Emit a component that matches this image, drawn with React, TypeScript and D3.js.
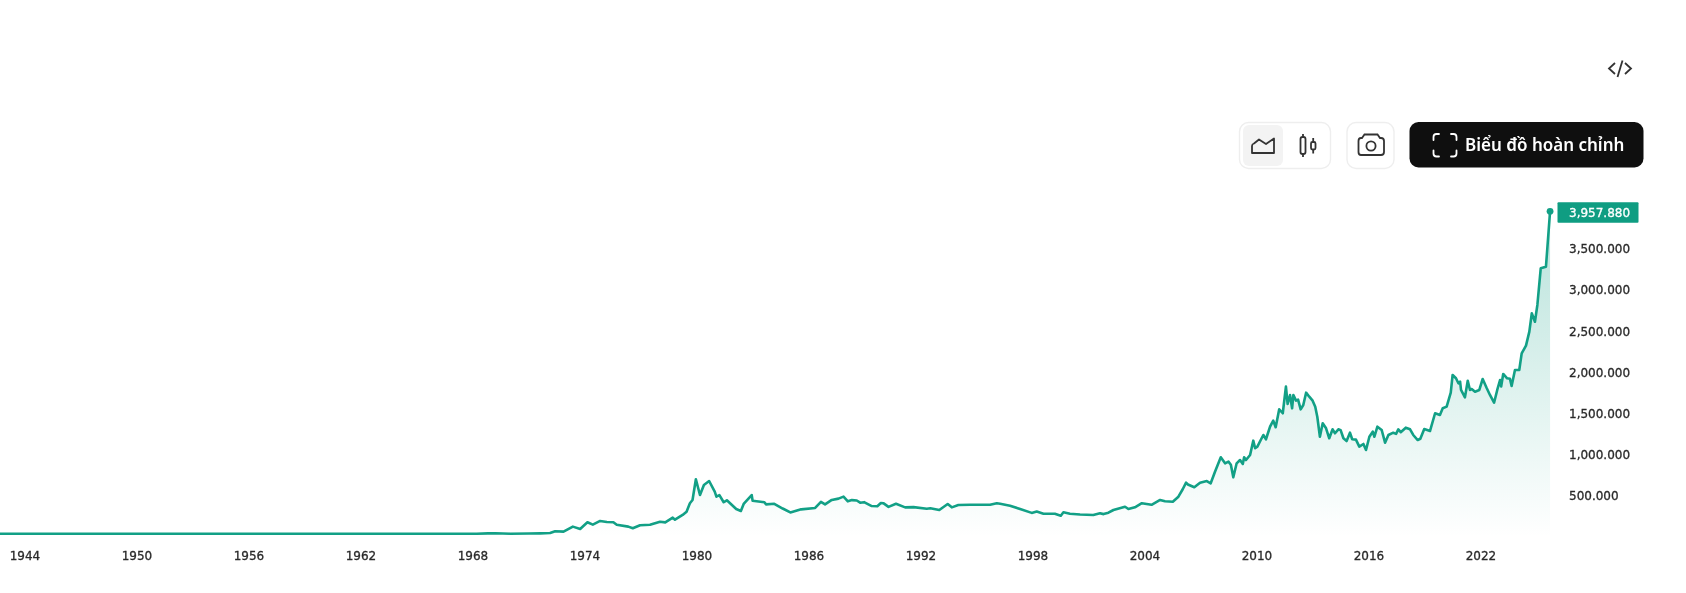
import React from 'react';
import * as d3 from 'd3';

const years = [
  1942.66, 1968.2, 1968.8, 1969.2, 1970.0, 1971.0, 1971.6, 1972.13, 1972.4, 1972.85, 1973.35, 1973.74,
  1974.13, 1974.42, 1974.81, 1975.17, 1975.52, 1975.7, 1976.32, 1976.56, 1976.95, 1977.48, 1978.02,
  1978.3, 1978.7, 1978.82, 1979.23, 1979.44, 1979.62, 1979.76, 1979.94, 1980.16, 1980.37, 1980.65, 1980.95,
  1981.04, 1981.2, 1981.43, 1981.6, 1982.1, 1982.35, 1982.5, 1982.93, 1982.98, 1983.61, 1983.7, 1984.14,
  1984.59, 1985.0, 1985.58, 1986.33, 1986.64, 1986.86, 1987.22, 1987.58, 1987.85, 1988.08, 1988.3, 1988.56,
  1988.74, 1988.95, 1989.36, 1989.66, 1989.85, 1990.0, 1990.26, 1990.66, 1991.15, 1991.6, 1992.31, 1992.5, 1992.98, 1993.43,
  1993.65, 1994.0, 1994.63, 1995.7, 1996.06, 1996.24, 1996.77, 1997.31, 1997.93, 1998.2, 1998.56,
  1999.17, 1999.49, 1999.63, 1999.98, 2000.52, 2001.23, 2001.59, 2001.78, 2002.04, 2002.31, 2002.93,
  2003.11, 2003.46, 2003.83, 2004.35, 2004.81, 2005.07, 2005.49, 2005.79, 2006.02, 2006.2, 2006.3,
  2006.64, 2006.95, 2007.31, 2007.52, 2007.75, 2008.06, 2008.29, 2008.47, 2008.6, 2008.73, 2008.91,
  2009.09, 2009.24, 2009.31, 2009.41, 2009.63, 2009.8, 2009.9, 2010.02, 2010.2, 2010.34, 2010.48,
  2010.7, 2010.87, 2011.0, 2011.19, 2011.38, 2011.55, 2011.64, 2011.77, 2011.88, 2011.95, 2012.09,
  2012.2, 2012.34, 2012.48, 2012.63, 2012.8, 2012.98, 2013.12, 2013.23, 2013.37, 2013.52, 2013.7,
  2013.87, 2014.05, 2014.18, 2014.36, 2014.48, 2014.63, 2014.8, 2014.98, 2015.1, 2015.3, 2015.48,
  2015.7, 2015.84, 2016.02, 2016.2, 2016.29, 2016.45, 2016.68, 2016.86, 2017.04, 2017.3, 2017.45,
  2017.57, 2017.7, 2017.97, 2018.2, 2018.37, 2018.61, 2018.75, 2018.96, 2019.27, 2019.54, 2019.8,
  2019.95, 2020.16, 2020.38, 2020.48, 2020.66, 2020.79, 2020.88, 2020.93, 2021.14, 2021.29, 2021.41,
  2021.5, 2021.68, 2021.91, 2022.09, 2022.31, 2022.48, 2022.7, 2022.87, 2023.02, 2023.08, 2023.19,
  2023.4, 2023.55, 2023.64, 2023.82, 2024.05, 2024.18, 2024.41, 2024.59, 2024.72, 2024.89, 2025.02,
  2025.2, 2025.48, 2025.7,
];

const prices = [
  42, 42, 46, 48, 42, 44, 46, 50, 72, 67, 128, 100,
  181, 152, 197, 185, 181, 150, 128, 108, 145, 150, 188,
  180, 237, 212, 270, 310, 412, 452, 703, 512, 634, 682, 553,
  492, 510, 424, 448, 342, 318, 403, 512, 443, 424, 398, 405,
  348, 300, 338, 355, 428, 398, 452, 468, 492, 435, 450, 445,
  419, 425, 378, 375, 415, 411, 368, 405, 362, 365, 345, 351, 330, 403,
  362, 390, 393, 393, 412, 405, 382, 342, 295, 312, 285,
  285, 260, 302, 285, 276, 270, 290, 280, 297, 330, 370,
  342, 363, 412, 393, 452, 436, 431, 492, 582, 662, 640,
  606, 662, 682, 654, 795, 970, 897, 917, 880, 727, 897,
  937, 889, 970, 937, 998, 1172, 1080, 1099, 1180, 1241, 1189,
  1342, 1415, 1335, 1553, 1505, 1828, 1618, 1727, 1565, 1727, 1658,
  1670, 1553, 1605, 1755, 1706, 1658, 1585, 1463, 1220, 1383, 1322,
  1201, 1310, 1262, 1310, 1300, 1201, 1168, 1269, 1189, 1185, 1099,
  1132, 1059, 1220, 1281, 1220, 1342, 1302, 1148, 1241, 1269, 1255,
  1310, 1275, 1330, 1310, 1241, 1180, 1195, 1314, 1290, 1505, 1484,
  1565, 1585, 1755, 1970, 1930, 1869, 1889, 1788, 1699, 1900, 1788,
  1800, 1767, 1788, 1921, 1808, 1727, 1633, 1788, 1909, 1830, 1982,
  1930, 1925, 1836, 2031, 2031, 2233, 2326, 2496, 2719, 2617, 2820,
  3266, 3285, 3957.88,
];

const xTickLabels = [1944, 1950, 1956, 1962, 1968, 1974, 1980, 1986, 1992, 1998, 2004, 2010, 2016, 2022];
const yTickLabels = [500, 1000, 1500, 2000, 2500, 3000, 3500];

const WIDTH = 1686;
const HEIGHT = 593;
const LINE = '#12a086';
const BADGE = '#0f9d82';
const FONT = '"DejaVu Sans", sans-serif';

const x = d3.scaleLinear().domain([1944, 2022]).range([25, 1481]);
const y = d3.scaleLinear().domain([500, 3500]).range([496, 249]);
const fmt = d3.format(',.3f');

export default function App() {
  const points = years.map((yr, i) => ({ yr, p: prices[i] }));
  const linePath = d3.line<any>().x(d => x(d.yr)).y(d => y(d.p))(points);
  const areaPath = d3.area<any>().x(d => x(d.yr)).y0(y(0)).y1(d => y(d.p))(points);
  const last = points[points.length - 1];
  const iconStroke = '#333';

  return (
    <svg
      width={WIDTH}
      height={HEIGHT}
      style={{ position: 'absolute', left: 0, top: 0, background: '#fff', filter: 'blur(0.35px)' }}
    >
      <defs>
        <linearGradient id="fade" gradientUnits="userSpaceOnUse" x1="0" x2="0" y1={y(last.p)} y2={y(0)}>
          <stop offset="0" stopColor={LINE} stopOpacity={0.3} />
          <stop offset="1" stopColor={LINE} stopOpacity={0} />
        </linearGradient>
      </defs>

      {/* embed icon */}
      <g fill="none" stroke={iconStroke} strokeWidth={1.8}>
        <path d="M1615 63 L1609 68.5 L1615 74" />
        <path d="M1625 63 L1631 68.5 L1625 74" />
        <path d="M1622.5 60.5 L1617.5 77" />
      </g>

      {/* chart type switch */}
      <rect x={1239.5} y={122.5} width={91} height={46} rx={9} fill="#fff" stroke="#eeeeee" strokeWidth={1.4} />
      <rect x={1243} y={125} width={40} height={41} rx={6} fill="#f3f3f3" />
      <path d="M1252 153 V146 Q1252 144 1254 143.5 L1259 139.5 L1266 144 L1274 138.5 V153 Z" fill="none" stroke={iconStroke} strokeWidth={1.8} strokeLinejoin="round" />
      <g fill="none" stroke={iconStroke} strokeWidth={1.8}>
        <rect x={1300.5} y={137} width={5} height={17} rx={2} />
        <path d="M1303 134 V137 M1303 154 V157" />
        <rect x={1311} y={142} width={4.5} height={7.5} rx={1.5} />
        <path d="M1313.2 138 V142 M1313.2 149.5 V153.5" />
      </g>

      {/* camera button */}
      <rect x={1347} y={122.5} width={47} height={46} rx={9} fill="#fff" stroke="#eeeeee" strokeWidth={1.4} />
      <g fill="none" stroke={iconStroke} strokeWidth={1.8}>
        <path d="M1362 138 L1364.5 134.5 H1377.5 L1380 138 H1381 Q1384 138 1384 141 V152 Q1384 155 1381 155 H1361 Q1358.5 155 1358.5 152 V141 Q1358.5 138 1361 138 Z" />
        <circle cx={1371} cy={146} r={4.6} />
      </g>

      {/* full chart button */}
      <rect x={1409.5} y={122} width={234} height={45.5} rx={9} fill="#0f0f0f" />
      <g fill="none" stroke="#fff" strokeWidth={1.8} strokeLinecap="round">
        <path d="M1433.5 140 V137 Q1433.5 134 1436.5 134 H1439" />
        <path d="M1451 134 H1453.5 Q1456.5 134 1456.5 137 V140" />
        <path d="M1456.5 150.5 V153.5 Q1456.5 156.5 1453.5 156.5 H1451" />
        <path d="M1439 156.5 H1436.5 Q1433.5 156.5 1433.5 153.5 V150.5" />
      </g>
      <text x={1465} y={145} dy="0.35em" fill="#fff" fontFamily='"Noto Sans", sans-serif' fontWeight={600} fontSize={17}>Biểu đồ hoàn chỉnh</text>

      {/* series */}
      <path d={areaPath!} fill="url(#fade)" />
      <path d={linePath!} fill="none" stroke={LINE} strokeWidth={2.6} strokeLinejoin="round" />
      <circle cx={x(last.yr)} cy={y(last.p)} r={3.4} fill={LINE} />

      {/* axes */}
      <g fontFamily={FONT} fontSize={12} fill="#2a2a2a" stroke="#2a2a2a" strokeWidth={0.3}>
        {xTickLabels.map(t => (
          <text key={t} x={x(t)} y={556} dy="0.35em" textAnchor="middle">{t}</text>
        ))}
        {yTickLabels.map(t => (
          <text key={t} x={1569} y={y(t)} dy="0.35em">{fmt(t)}</text>
        ))}
      </g>

      {/* last value badge */}
      <rect x={1557.5} y={y(last.p) - 9} width={81} height={20.5} rx={1} fill={BADGE} />
      <text x={1569} y={y(last.p) + 1.2} dy="0.35em" fontFamily={FONT} fontSize={12} fill="#fff" stroke="#fff" strokeWidth={0.3}>{fmt(last.p)}</text>
    </svg>
  );
}
